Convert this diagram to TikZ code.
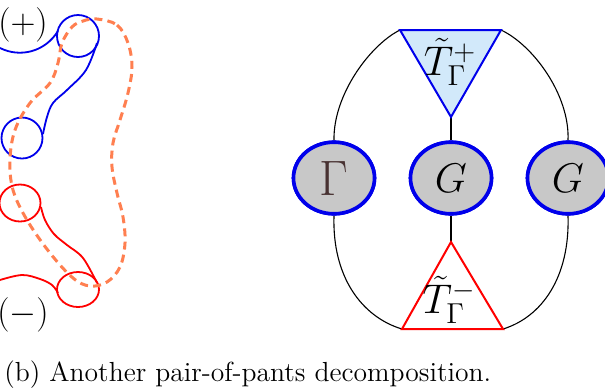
\documentclass[tikz,border=0pt]{standalone}
\usetikzlibrary{shapes.geometric}
\definecolor{trifill}{RGB}{210,233,250}
\definecolor{ellfill}{RGB}{200,200,200}
\definecolor{dashcol}{RGB}{255,127,80}
\definecolor{gamcol}{RGB}{72,50,50}
\definecolor{myblue}{RGB}{0,0,235}
\tikzset{
  bluecurve/.style={draw=myblue, line width=0.9pt},
  redcurve/.style={draw=red, line width=0.9pt},
  dashcurve/.style={draw=dashcol, line width=1.5pt, dash pattern=on 4pt off 2.6pt},
  ellnode/.style={ellipse, draw=myblue, fill=ellfill, line width=1.8pt,
     minimum width=40.5pt, minimum height=35.8pt, inner sep=0pt},
  thinline/.style={draw=black, line width=0.55pt},
  pmlabel/.style={font=\fontsize{16.3}{18}\selectfont, inner sep=0pt},
  tlabel/.style={font=\fontsize{20.5}{22}\selectfont, inner sep=0pt},
}
\begin{document}
\begin{tikzpicture}[x=0.5pt,y=-0.5pt]
\useasboundingbox (0,0) rectangle (605,387);
\clip (0,0) rectangle (605,387);

% ---------- left figure ----------
\coordinate (bc1) at (78,36);
\coordinate (bc2) at (22,138);
\coordinate (rc1) at (20,203);
\coordinate (rc2) at (78,289.5);

\draw[bluecurve] (bc1) circle[radius=21];
\draw[bluecurve] (bc2) circle[radius=20.5];
\draw[bluecurve] (0,48) .. controls (20,58) and (45,52) .. (58,31);
\draw[bluecurve] plot[smooth, tension=0.6] coordinates {(97,43) (86,70) (67,90) (53,103) (47,117) (43,134)};

\draw[redcurve] (rc1) ellipse[x radius=20.5, y radius=18.5];
\draw[redcurve] (rc2) ellipse[x radius=21, y radius=17.5];
\draw[redcurve] plot[smooth, tension=0.6] coordinates {(41,207) (45,220) (54,234) (67,245) (83,258) (97,283)};
\draw[redcurve] plot[smooth, tension=0.6] coordinates {(0,280) (22,275) (40,279) (52,285) (58,293)};

\draw[dashcurve] plot[smooth cycle, tension=0.6] coordinates {
 (97,19) (117,25) (128,43) (132,67) (128,93) (120,120) (113,143) (112,167)
 (117,193) (123,217) (125,243) (120,267) (107,282) (90,286) (73,278) (50,253)
 (27,220) (13,190) (10,160) (15,130) (30,103) (50,83) (58,63) (62,43) (72,27) (83,21)};

\node[pmlabel] (plus) at (23,25) {$(+)$};
\node[pmlabel] (minus) at (23,315) {$(-)$};

% ---------- right figure ----------
\coordinate (tl) at (400,30);
\coordinate (tr) at (501,30);
\coordinate (tb) at (451,117);
\coordinate (ba) at (451,242);
\coordinate (bl) at (402,329);
\coordinate (br) at (503,329);

\node[ellnode] (gam) at (334,178) {};
\node[ellnode] (g1) at (451,178) {};
\node[ellnode] (g2) at (568,178) {};

\draw[thinline] (tl) .. controls (370,45) and (333,95) .. (gam.north);
\draw[thinline] (tr) .. controls (533,45) and (570,95) .. (g2.north);
\draw[thinline] (gam.south) .. controls (332,277) and (362,317) .. (bl);
\draw[thinline] (g2.south) .. controls (570,277) and (542,317) .. (br);
\draw[thinline] (tb) -- (g1.north);
\draw[thinline] (g1.south) -- (ba);

\node[ellnode] at (334,178) {};
\node[ellnode] at (451,178) {};
\node[ellnode] at (568,178) {};
\node[font=\fontsize{28.5}{30}\selectfont, text=gamcol, inner sep=0pt] (gamlab) at (334,178) {$\Gamma$};
\node[font=\fontsize{21.5}{23}\selectfont, inner sep=0pt] (g1lab) at (451,178) {$G$};
\node[font=\fontsize{21.5}{23}\selectfont, inner sep=0pt] (g2lab) at (568,178) {$G$};

\draw[draw=myblue, fill=trifill, line width=1pt, line join=miter] (tl) -- (tr) -- (tb) -- cycle;
\draw[draw=red, fill=white, line width=1pt, line join=miter] (ba) -- (br) -- (bl) -- cycle;

\node[tlabel] (tplus) at (450,62) {$\tilde{T}_\Gamma^+$};
\node[tlabel] (tminus) at (449,300) {$\tilde{T}_\Gamma^-$};

% ---------- caption ----------
\node[anchor=base west, inner sep=0pt, font=\fontsize{13.8}{15}\selectfont] (cap) at (4,381) {(b) Another pair-of-pants decomposition.};
\end{tikzpicture}
\end{document}
